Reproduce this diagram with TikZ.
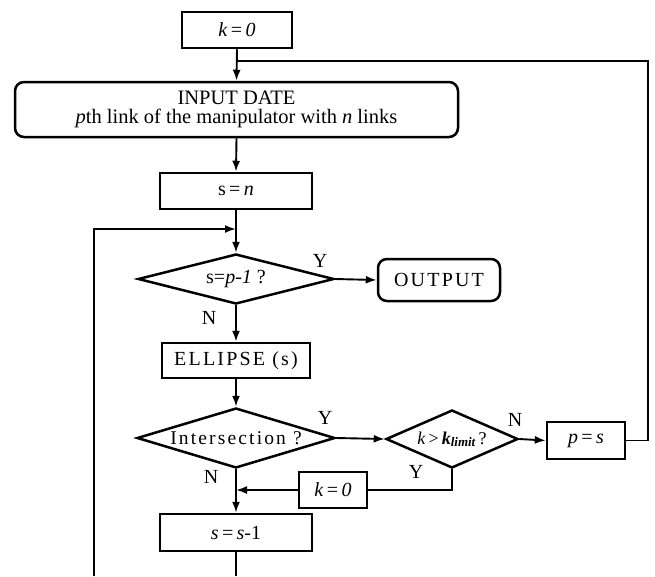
\documentclass[tikz,border=0pt]{standalone}
\usepackage{fontspec}
\setmainfont{Liberation Serif}
\newfontfamily\spc{Liberation Serif}[LetterSpace=11]
\usetikzlibrary{shapes.geometric,arrows.meta}
\begin{document}
\begin{tikzpicture}[x=1pt,y=-1pt,
  box/.style={draw,line width=2.5pt,inner sep=0pt,font=\fontsize{20}{20}\selectfont},
  rbox/.style={box,rounded corners=9pt},
  dec/.style={draw,shape=diamond,line width=2.5pt,inner sep=0pt,font=\fontsize{20}{20}\selectfont},
  lab/.style={font=\fontsize{20}{20}\selectfont,inner sep=0pt},
  conn/.style={line width=1.9pt},
  arr/.style={conn,-{Latex[length=11pt,width=8pt]}}]
\useasboundingbox (0,0) rectangle (655,576);
% nodes
\node[box,minimum width=110pt,minimum height=36pt] (k0a) at (237,30) {\textit{k}\,=\,\textit{0}};
\node[rbox,minimum width=443pt,minimum height=55pt,align=center,font=\fontsize{20.5}{19}\selectfont] (inp) at (236.5,109.5)
  {INPUT DATE\\\textit{p}th link of the manipulator with \textit{n} links};
\node[box,minimum width=152pt,minimum height=36pt] (sn) at (236,191) {s\,=\,\textit{n}};
\node[dec,aspect=3.9,minimum width=196pt,minimum height=50pt] (d1) at (236,279) {s=\textit{p-1} ?};
\node[rbox,minimum width=122pt,minimum height=42pt,font=\spc\fontsize{20}{20}\selectfont] (out) at (439,280) {OUTPUT};
\node[box,minimum width=148pt,minimum height=35pt,font=\spc\fontsize{20}{20}\selectfont] (ell) at (236,360.5) {ELLIPSE (s)};
\node[dec,aspect=3.3,minimum width=198pt,minimum height=60pt,font=\spc\fontsize{19.5}{19.5}\selectfont] (d2) at (236,438) {Intersection ?};
\node[dec,aspect=2.3,minimum width=132pt,minimum height=58pt,font=\fontsize{18}{18}\selectfont] (d3) at (452,439)
  {\textit{k}\,>\,\textit{\textbf{k}}{\fontsize{13}{13}\selectfont\raisebox{-2pt}{\textit{\textbf{limit}}}}\,?};
\node[box,minimum width=78pt,minimum height=37pt] (ps) at (586,440.5) {\textit{p}\,=\,\textit{s}};
\node[box,minimum width=68pt,minimum height=36pt] (k0b) at (333,490) {\textit{k}\,=\,\textit{0}};
\node[box,minimum width=152pt,minimum height=37pt] (ss) at (236,532.5) {\textit{s}\,=\,\textit{s}-1};
% labels
\node[lab] (y1) at (320,261) {Y};
\node[lab] (n1) at (209,318) {N};
\node[lab] (y2) at (325,418) {Y};
\node[lab] (n2) at (211,477) {N};
\node[lab] (n3) at (515,420) {N};
\node[lab] (y3) at (416,472) {Y};
% coordinates
\coordinate (j) at (237,61);
\coordinate (rtop) at (648,61);
\coordinate (loopin) at (236,229);
\coordinate (lbot) at (94,576);
\coordinate (sbot) at (236,576);
\coordinate (kin) at (236,490);
% connectors
\draw[arr] (k0a.south) -- (inp.north);
\draw[conn] (ps.east) -| (rtop) -- (j);
\draw[arr] (inp.south) -- (sn.north);
\draw[arr] (sn.south) -- (d1.north);
\draw[arr] (lbot) |- (loopin);
\draw[arr] (d1.east) -- (out.west);
\draw[arr] (d1.south) -- (ell.north);
\draw[arr] (ell.south) -- (d2.north);
\draw[arr] (d2.east) -- (d3.west);
\draw[arr] (d3.east) -- (ps.west);
\draw[conn] (d3.south) |- (k0b.east);
\draw[arr] (k0b.west) -- (kin);
\draw[arr] (d2.south) -- (ss.north);
\draw[conn] (ss.south) -- (sbot);
\end{tikzpicture}
\end{document}
